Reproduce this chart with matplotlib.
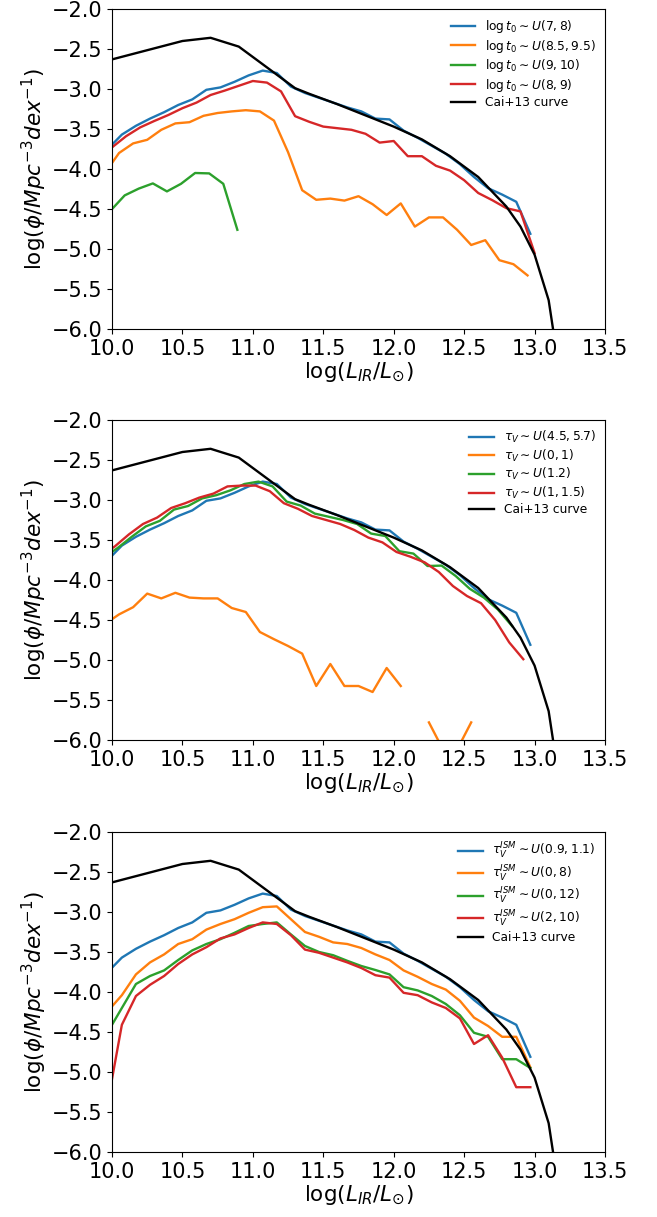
import numpy as np
import matplotlib
matplotlib.use('Agg')
import matplotlib.pyplot as plt

# --- data ------------------------------------------------------------------
nan = np.nan

# Cai+13 curve (same in every panel)
lum_cai = [10.0, 10.5, 10.7, 10.9, 11.1, 11.3, 11.4, 11.6, 11.8, 12.0, 12.2,
           12.4, 12.6, 12.8, 12.9, 13.0, 13.1, 13.2]
phi_cai = [-2.63, -2.40, -2.36, -2.47, -2.73, -2.99, -3.06, -3.19, -3.33, -3.47,
           -3.63, -3.84, -4.10, -4.47, -4.72, -5.07, -5.64, -6.80]

# fiducial run (blue, same in every panel)
lum_fid = [9.97, 10.07, 10.17, 10.27, 10.37, 10.47, 10.57, 10.67, 10.77, 10.87,
           10.97, 11.07, 11.17, 11.27, 11.37, 11.47, 11.57, 11.67, 11.77, 11.87,
           11.97, 12.07, 12.17, 12.27, 12.37, 12.47, 12.57, 12.67, 12.77, 12.87,
           12.97]
phi_fid = [-3.75, -3.57, -3.46, -3.37, -3.29, -3.20, -3.13, -3.01, -2.98, -2.91,
           -2.83, -2.77, -2.80, -2.97, -3.05, -3.11, -3.17, -3.23, -3.28, -3.37,
           -3.38, -3.52, -3.61, -3.71, -3.81, -3.94, -4.10, -4.24, -4.32, -4.41,
           -4.81]

# panel 1 : log t0
lum_t0_85 = [9.95, 10.05, 10.15, 10.25, 10.35, 10.45, 10.55, 10.65, 10.75, 10.85,
             10.95, 11.05, 11.15, 11.25, 11.35, 11.45, 11.55, 11.65, 11.75, 11.85,
             11.95, 12.05, 12.15, 12.25, 12.35, 12.45, 12.55, 12.65, 12.75, 12.85,
             12.95]
phi_t0_85 = [-4.05, -3.80, -3.68, -3.635, -3.51, -3.43, -3.415, -3.335, -3.30, -3.28,
             -3.265, -3.28, -3.395, -3.79, -4.265, -4.385, -4.37, -4.395, -4.34, -4.44,
             -4.575, -4.43, -4.72, -4.605, -4.605, -4.76, -4.95, -4.89, -5.14, -5.19,
             -5.33]
lum_t0_9 = [9.99, 10.09, 10.19, 10.29, 10.39, 10.49, 10.59, 10.69, 10.79, 10.89]
phi_t0_9 = [-4.52, -4.33, -4.245, -4.18, -4.28, -4.185, -4.05, -4.055, -4.185, -4.76]
lum_t0_8 = [10.0, 10.1, 10.2, 10.3, 10.4, 10.5, 10.6, 10.7, 10.8, 10.9, 11.0,
            11.1, 11.2, 11.3, 11.4, 11.5, 11.6, 11.7, 11.8, 11.9, 12.0, 12.1,
            12.2, 12.3, 12.4, 12.5, 12.6, 12.7, 12.8, 12.9, 13.0]
phi_t0_8 = [-3.73, -3.59, -3.48, -3.40, -3.325, -3.24, -3.17, -3.075, -3.02, -2.96,
            -2.90, -2.92, -3.03, -3.34, -3.41, -3.47, -3.49, -3.51, -3.56, -3.67,
            -3.65, -3.84, -3.84, -3.96, -4.02, -4.14, -4.30, -4.39, -4.49, -4.53,
            -5.05]

# panel 2 : tau_V
lum_tv_01 = [9.95, 10.05, 10.15, 10.25, 10.35, 10.45, 10.55, 10.65, 10.75, 10.85,
             10.95, 11.05, 11.15, 11.25, 11.35, 11.45, 11.55, 11.65, 11.75, 11.85,
             11.95, 12.05, 12.15, 12.25, 12.35, 12.45, 12.55]
phi_tv_01 = [-4.55, -4.43, -4.34, -4.17, -4.23, -4.16, -4.22, -4.23, -4.23, -4.35,
             -4.40, -4.65, -4.74, -4.825, -4.92, -5.325, -5.05, -5.325, -5.325, -5.40,
             -5.10, -5.325, nan, -5.78, -6.12, -6.12, -5.78]
lum_tv_12 = [9.94, 10.04, 10.14, 10.24, 10.34, 10.44, 10.54, 10.64, 10.74, 10.84,
             10.94, 11.04, 11.14, 11.24, 11.34, 11.44, 11.54, 11.64, 11.74, 11.84,
             11.94, 12.04, 12.14, 12.24, 12.34, 12.44, 12.54, 12.64, 12.74, 12.84]
phi_tv_12 = [-3.72, -3.60, -3.46, -3.33, -3.26, -3.12, -3.075, -2.98, -2.94, -2.88,
             -2.80, -2.77, -2.83, -3.02, -3.07, -3.17, -3.21, -3.25, -3.30, -3.42,
             -3.45, -3.64, -3.67, -3.825, -3.82, -3.95, -4.11, -4.22, -4.37, -4.575]
lum_tv_115 = [9.92, 10.02, 10.12, 10.22, 10.32, 10.42, 10.52, 10.62, 10.72, 10.82,
              10.92, 11.02, 11.12, 11.22, 11.32, 11.42, 11.52, 11.62, 11.72, 11.82,
              11.92, 12.02, 12.12, 12.22, 12.32, 12.42, 12.52, 12.62, 12.72, 12.82,
              12.92]
phi_tv_115 = [-3.70, -3.58, -3.43, -3.30, -3.22, -3.10, -3.04, -2.97, -2.92, -2.83,
              -2.82, -2.82, -2.89, -3.04, -3.11, -3.20, -3.25, -3.30, -3.375, -3.47,
              -3.53, -3.65, -3.71, -3.78, -3.90, -4.075, -4.20, -4.29, -4.50, -4.78,
              -4.99]

# panel 3 : tau_V^ISM (same luminosity bins as the fiducial run)
phi_ism_08 = [-4.24, -4.04, -3.78, -3.63, -3.53, -3.40, -3.34, -3.22, -3.15, -3.09,
              -3.01, -2.94, -2.93, -3.09, -3.25, -3.31, -3.38, -3.40, -3.45, -3.53,
              -3.60, -3.73, -3.81, -3.90, -3.97, -4.11, -4.32, -4.425, -4.56, -4.56,
              -4.94]
phi_ism_012 = [-4.50, -4.20, -3.90, -3.80, -3.73, -3.60, -3.48, -3.40, -3.34, -3.26,
               -3.175, -3.15, -3.13, -3.28, -3.425, -3.50, -3.54, -3.61, -3.675, -3.725,
               -3.78, -3.94, -3.98, -4.05, -4.15, -4.29, -4.51, -4.56, -4.84, -4.84,
               -4.95]
phi_ism_210 = [-5.38, -4.41, -4.05, -3.91, -3.80, -3.65, -3.53, -3.44, -3.33, -3.28,
               -3.20, -3.13, -3.15, -3.29, -3.47, -3.51, -3.57, -3.63, -3.70, -3.79,
               -3.82, -4.01, -4.04, -4.13, -4.20, -4.33, -4.65, -4.54, -4.82, -5.19,
               -5.19]

panels = [
    [(lum_fid, phi_fid, r'$\log t_0 \sim U(7,8)$'),
     (lum_t0_85, phi_t0_85, r'$\log t_0 \sim U(8.5,9.5)$'),
     (lum_t0_9, phi_t0_9, r'$\log t_0 \sim U(9,10)$'),
     (lum_t0_8, phi_t0_8, r'$\log t_0 \sim U(8,9)$')],
    [(lum_fid, phi_fid, r'$\tau_V \sim U(4.5,5.7)$'),
     (lum_tv_01, phi_tv_01, r'$\tau_V \sim U(0,1)$'),
     (lum_tv_12, phi_tv_12, r'$\tau_V \sim U(1.2)$'),
     (lum_tv_115, phi_tv_115, r'$\tau_V \sim U(1,1.5)$')],
    [(lum_fid, phi_fid, r'$\tau_V^{ISM} \sim U(0.9,1.1)$'),
     (lum_fid, phi_ism_08, r'$\tau_V^{ISM} \sim U(0,8)$'),
     (lum_fid, phi_ism_012, r'$\tau_V^{ISM} \sim U(0,12)$'),
     (lum_fid, phi_ism_210, r'$\tau_V^{ISM} \sim U(2,10)$')],
]

colors = ['tab:blue', 'tab:orange', 'tab:green', 'tab:red']

# --- figure -----------------------------------------------------------------
W, H = 657, 1217
fig = plt.figure(figsize=(W / 100, H / 100), dpi=100)

left, right = 112, 605
tops = [9, 420, 832]
ax_h = 320

for top, series in zip(tops, panels):
    ax = fig.add_axes([left / W, 1 - (top + ax_h) / H, (right - left) / W, ax_h / H])

    for (x, y, lab), c in zip(series, colors):
        ax.plot(x, y, color=c, lw=1.7, label=lab)
    ax.plot(lum_cai, phi_cai, color='k', lw=1.7, label='Cai+13 curve')

    ax.set_xlim(10.0, 13.5)
    ax.set_ylim(-6.0, -2.0)
    ax.set_xticks(np.arange(10.0, 13.51, 0.5))
    ax.set_yticks(np.arange(-6.0, -1.99, 0.5))
    ax.tick_params(labelsize=15)
    ax.set_xlabel(r'$\log(L_{IR}/L_{\odot})$', fontsize=15.5, labelpad=1)
    ax.set_ylabel(r'$\log(\phi/Mpc^{-3}dex^{-1})$', fontsize=15.5, labelpad=2)
    ax.legend(loc='upper right', fontsize=8.8, frameon=False,
              labelspacing=0.2, borderaxespad=0.35)

fig.savefig('out.png', dpi=100)
